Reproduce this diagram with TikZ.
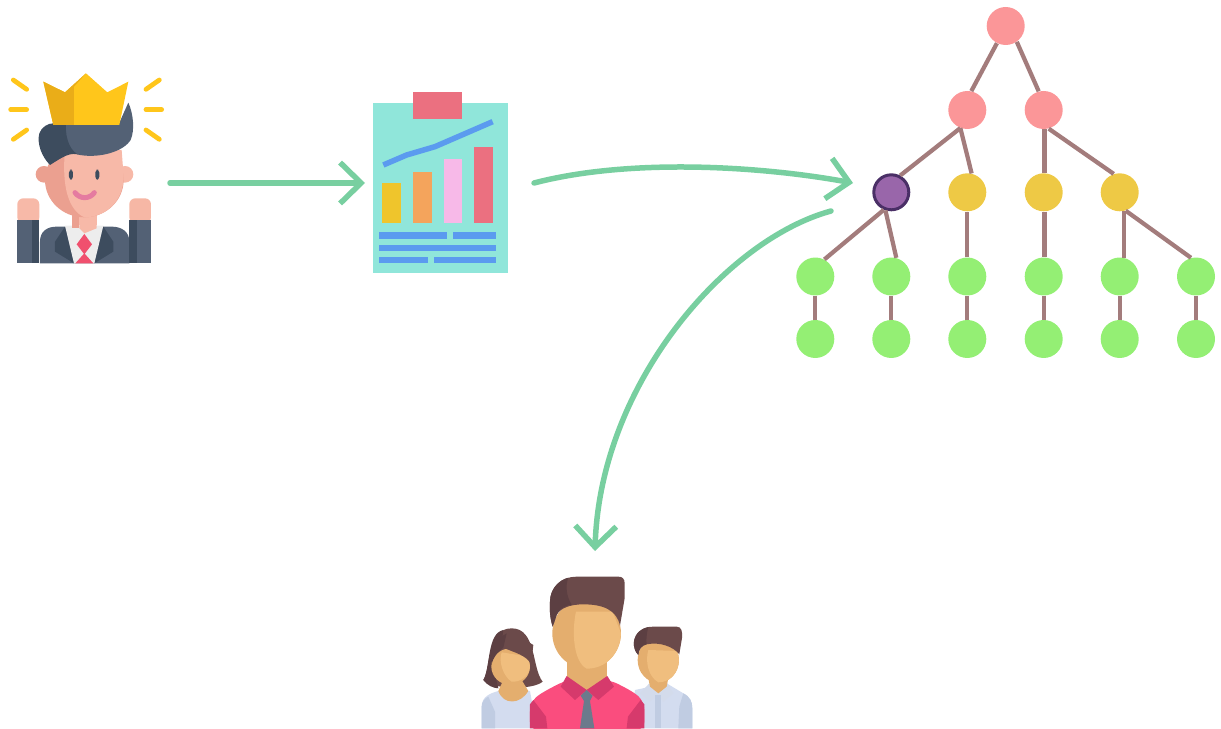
\documentclass[tikz,border=0pt]{standalone}
\usepackage{xcolor}
\usetikzlibrary{arrows.meta}
\definecolor{flow}{HTML}{78CFA0}
\definecolor{link}{HTML}{A37C7C}
\definecolor{rosy}{HTML}{FB9698}
\definecolor{gold}{HTML}{EEC945}
\definecolor{leaf}{HTML}{94EF74}
\definecolor{plum}{HTML}{9966AA}
\definecolor{plumdark}{HTML}{4A2F66}
\definecolor{crownlight}{HTML}{FFC61B}
\definecolor{crowndark}{HTML}{EAAD18}
\definecolor{slate}{HTML}{536175}
\definecolor{slatedark}{HTML}{3D4C5E}
\definecolor{skin}{HTML}{F7B9A8}
\definecolor{skindark}{HTML}{EBA090}
\definecolor{tiered}{HTML}{F0506E}
\definecolor{smile}{HTML}{E57BA0}
\definecolor{board}{HTML}{90E6DA}
\definecolor{boardclip}{HTML}{EB7080}
\definecolor{bluebar}{HTML}{5B9BEF}
\definecolor{yellowbar}{HTML}{EFC52C}
\definecolor{orangebar}{HTML}{F4A45C}
\definecolor{pinkbar}{HTML}{F7B9E8}
\definecolor{hairlight}{HTML}{6B4A4A}
\definecolor{hairdark}{HTML}{5C3F42}
\definecolor{facelight}{HTML}{F0BE7E}
\definecolor{facedark}{HTML}{E4AE6E}
\definecolor{shirtpink}{HTML}{FA4D7E}
\definecolor{shirtdark}{HTML}{D63A6C}
\definecolor{pale}{HTML}{D3DCEF}
\definecolor{paledark}{HTML}{C0CCE2}
\definecolor{greytie}{HTML}{6C7A8C}
\tikzset{
  treenode/.style={circle,minimum size=0.76cm,inner sep=0pt,fill=#1},
  treelink/.style={draw=link,line width=0.085cm},
  flowline/.style={draw=flow,line width=0.11cm,line cap=round,
    -{Straight Barb[length=0.42cm,width=0.82cm,line width=0.11cm]}},
  ray/.style={draw=crownlight,line width=0.095cm,line cap=round}
}
\begin{document}
\begin{tikzpicture}[x=0.02cm,y=-0.02cm]
  \useasboundingbox (0,0) rectangle (1221,729);

  % king
  \begin{scope}[shift={(0,60)},scale=0.3333]
    \foreach \xa/\ya/\xb/\yb in {40/60/80/88,32/149/80/149,40/238/80/210,478/60/438/88,438/149/485/149,478/238/438/210}
      \draw[ray] (\xa,\ya) -- (\xb,\yb);
    \fill[skindark] (132,343) circle (25);
    \fill[skin] (375,343) circle (25);
    \fill[slate] (120,610) -- (120,545) .. controls (120,515) and (140,500) .. (170,500) -- (335,500) .. controls (365,500) and (388,515) .. (388,545) -- (388,610) -- cycle;
    \fill[slatedark] (195,500) -- (165,545) -- (165,575) -- (222,610) -- cycle;
    \fill[slatedark] (310,500) -- (340,545) -- (340,575) -- (283,610) -- cycle;
    \fill[black!7] (195,497) -- (310,497) -- (283,610) -- (222,610) -- cycle;
    \fill[skin] (215,450) rectangle (290,495);
    \fill[skindark] (215,450) rectangle (238,505);
    \fill[skin] (238,495) -- (290,495) -- (290,505) -- (253,520) -- (238,505) -- cycle;
    \fill[tiered] (253,522) -- (276,553) -- (253,583) -- (230,553) -- cycle;
    \fill[tiered] (253,580) -- (280,610) -- (226,610) -- cycle;
    \fill[skindark] (253,360) ellipse (118 and 112);
    \fill[skin] (195,270) -- (365,270) -- (371,350) .. controls (371,420) and (320,472) .. (253,472) .. controls (205,450) and (185,380) .. (195,270) -- cycle;
    \fill[slate] (195,195) -- (355,195) -- (385,128) .. controls (400,160) and (405,210) .. (392,240) .. controls (370,275) and (300,295) .. (240,285) .. controls (215,280) and (195,260) .. (195,195) -- cycle;
    \fill[slatedark] (160,190) -- (198,195) .. controls (195,240) and (215,280) .. (240,285) .. controls (210,275) and (190,290) .. (150,315) .. controls (125,290) and (110,250) .. (118,220) .. controls (125,200) and (145,190) .. (160,190) -- cycle;
    \fill[crownlight] (130,65) -- (195,97) -- (258,40) -- (322,97) -- (385,65) -- (358,195) -- (160,195) -- cycle;
    \fill[crowndark] (130,65) -- (195,97) -- (258,40) -- (222,80) -- (222,195) -- (160,195) -- cycle;
    \fill[skin,rounded corners=0.12cm] (52,415) rectangle (118,490);
    \fill[skin!90!skindark,rounded corners=0.12cm] (388,415) rectangle (453,490);
    \fill[slate] (52,480) rectangle (118,610);
    \fill[slatedark] (95,480) rectangle (118,610);
    \fill[slate] (388,480) rectangle (453,610);
    \fill[slatedark] (388,480) rectangle (410,610);
    \fill[slatedark,rounded corners=0.06cm] (207,329) rectangle (219,359);
    \fill[slatedark,rounded corners=0.06cm] (286,329) rectangle (298,359);
    \draw[draw=smile,line width=0.1cm,line cap=round] (225,398) .. controls (240,418) and (268,418) .. (283,398);
  \end{scope}

  % chart
  \begin{scope}[shift={(360,80)},scale=0.3333]
    \fill[board] (40,70) rectangle (445,578);
    \fill[boardclip] (160,35) rectangle (306,118);
    \fill[yellowbar] (67,310) rectangle (124,430);
    \fill[orangebar] (160,275) rectangle (215,430);
    \fill[pinkbar] (252,238) rectangle (306,430);
    \fill[boardclip] (343,200) rectangle (400,430);
    \draw[draw=bluebar,line width=0.11cm] (70,255) -- (140,225) -- (225,200) -- (398,125);
    \foreach \xa/\ya/\xb/\yb in {58/457/260/477,280/457/408/477,58/495/408/514,58/532/205/550,223/532/408/550}
      \fill[bluebar] (\xa,\ya) rectangle (\xb,\yb);
  \end{scope}

  % family
  \begin{scope}[shift={(470,565)},scale=0.3333]
    \fill[hairlight] (40,345) .. controls (62,310) and (50,190) .. (125,190) .. controls (200,190) and (185,310) .. (218,350) .. controls (190,375) and (70,375) .. (40,345) -- cycle;
    \fill[hairdark] (40,345) .. controls (62,310) and (50,205) .. (100,195) .. controls (95,230) and (95,280) .. (65,290) -- (85,370) .. controls (70,370) and (50,360) .. (40,345) -- cycle;
    \fill[pale] (35,490) -- (35,425) .. controls (35,395) and (60,385) .. (85,378) -- (180,378) -- (200,490) -- cycle;
    \fill[paledark] (35,490) -- (35,425) .. controls (35,410) and (45,400) .. (55,395) -- (75,440) -- (75,490) -- cycle;
    \fill[facedark] (85,378) .. controls (100,420) and (150,420) .. (175,378) -- (155,345) -- (100,345) -- cycle;
    \fill[facedark] (122,305) ellipse (58 and 55);
    \fill[facelight] (95,262) -- (175,275) -- (180,305) .. controls (178,335) and (150,352) .. (125,350) .. controls (100,335) and (85,290) .. (95,262) -- cycle;
    \fill[hairlight] (100,248) .. controls (130,262) and (170,270) .. (183,298) -- (190,240) -- (125,200) -- cycle;
    \fill[hairdark] (65,298) .. controls (70,275) and (85,258) .. (100,248) -- (110,205) -- (70,230) -- cycle;
    \fill[pale] (495,375) -- (590,355) -- (640,385) .. controls (660,395) and (667,410) .. (667,430) -- (667,490) -- (480,490) -- cycle;
    \fill[paledark] (625,490) -- (628,425) -- (640,385) .. controls (660,395) and (667,410) .. (667,430) -- (667,490) -- cycle;
    \fill[paledark!70!white] (538,355) -- (510,385) -- (540,410) -- (565,388) -- cycle;
    \fill[paledark!70!white] (592,355) -- (610,385) -- (580,410) -- (565,388) -- cycle;
    \fill[paledark] (556,390) rectangle (574,490);
    \fill[facedark] (535,340) -- (595,340) -- (590,365) -- (565,385) -- (540,365) -- cycle;
    \fill[facedark] (565,285) ellipse (62 and 68);
    \fill[facelight] (535,255) -- (622,258) -- (627,285) .. controls (625,325) and (600,352) .. (565,352) .. controls (535,335) and (525,290) .. (535,255) -- cycle;
    \fill[hairlight] (492,230) .. controls (495,205) and (515,185) .. (550,185) -- (620,185) .. controls (635,185) and (638,200) .. (636,220) -- (628,268) .. controls (610,245) and (570,230) .. (530,238) .. controls (515,240) and (505,255) .. (505,270) .. controls (495,260) and (490,245) .. (492,230) -- cycle;
    \fill[hairdark] (492,230) .. controls (495,205) and (515,190) .. (535,186) .. controls (530,205) and (528,225) .. (530,238) .. controls (515,240) and (505,255) .. (505,270) .. controls (495,260) and (490,245) .. (492,230) -- cycle;
    \fill[shirtpink,rounded corners=0.16cm] (180,495) -- (180,415) .. controls (210,385) and (250,365) .. (290,345) -- (420,345) .. controls (460,365) and (490,380) .. (523,410) -- (523,495) -- cycle;
    \fill[shirtdark] (180,490) -- (180,418) -- (190,405) -- (228,455) -- (232,490) -- cycle;
    \fill[shirtdark] (523,490) -- (523,418) -- (512,405) -- (474,455) -- (470,490) -- cycle;
    \fill[facedark] (290,290) rectangle (412,345);
    \fill[facedark] (290,340) -- (412,340) -- (350,375) -- cycle;
    \fill[shirtdark] (290,333) -- (350,375) -- (315,405) -- (272,365) -- cycle;
    \fill[shirtdark] (412,333) -- (350,375) -- (385,405) -- (432,365) -- cycle;
    \fill[greytie] (350,375) -- (368,392) -- (360,408) -- (373,490) -- (330,490) -- (342,408) -- (332,392) -- cycle;
    \fill[facedark] (350,205) ellipse (103 and 106);
    \fill[facelight] (318,140) -- (428,140) -- (453,205) .. controls (450,265) and (410,311) .. (350,311) .. controls (310,290) and (305,200) .. (318,140) -- cycle;
    \fill[hairlight] (240,110) .. controls (240,65) and (275,35) .. (320,35) -- (445,35) .. controls (458,35) and (464,42) .. (464,55) -- (464,100) -- (450,182) .. controls (440,135) and (400,118) .. (340,118) .. controls (300,118) and (270,130) .. (260,150) -- (248,185) .. controls (240,160) and (238,130) .. (240,110) -- cycle;
    \fill[hairdark] (240,110) .. controls (240,75) and (265,45) .. (295,38) .. controls (285,65) and (290,95) .. (305,119) .. controls (280,122) and (265,135) .. (260,150) -- (248,185) .. controls (240,160) and (238,130) .. (240,110) -- cycle;
  \end{scope}

  % tree
  \node[treenode=rosy] (root) at (1005.7,26) {};
  \node[treenode=rosy] (ml) at (967.3,110) {};
  \node[treenode=rosy] (mr) at (1043.7,110) {};
  \node[treenode=gold] (gb) at (967.3,192.3) {};
  \node[treenode=gold] (gc) at (1043.7,192.3) {};
  \node[treenode=gold] (gd) at (1119.7,192.3) {};
  \node[treenode=plum,draw=plumdark,line width=0.06cm,minimum size=0.7cm] (picked) at (891.3,192.3) {};
  \foreach \n/\x in {a/815.3,b/891.3,c/967.3,d/1043.7,e/1119.7,f/1196} {
    \node[treenode=leaf] (up\n) at (\x,276.5) {};
    \node[treenode=leaf] (lo\n) at (\x,339) {};
  }
  \draw[treelink] (root.243) -- (ml.78);
  \draw[treelink] (root.305) -- (mr.105);
  \draw[treelink] (ml.249) -- (picked.62);
  \draw[treelink] (ml.249) -- (gb.77);
  \draw[treelink] (mr.272) -- (gc.88);
  \draw[treelink] (mr.285) -- (gd.108);
  \draw[treelink] (picked.247) -- (upa.62);
  \draw[treelink] (picked.252) -- (upb.75);
  \draw[treelink] (gb.south) -- (upc.north);
  \draw[treelink] (gc.272) -- (upd.88);
  \draw[treelink] (gd.282) -- (upe.78);
  \draw[treelink] (gd.288) -- (upf.105);
  \foreach \n in {a,b,c,d,e,f}
    \draw[treelink] (up\n.south) -- (lo\n.north);

  % arrows
  \coordinate (kingout) at (170,183);
  \coordinate (chartin) at (365,183);
  \coordinate (chartout) at (534,183);
  \coordinate (treein) at (853,183);
  \coordinate (treeout) at (831,211);
  \coordinate (familyin) at (595,551);
  \draw[flowline] (kingout) -- (chartin);
  \draw[flowline] (chartout) .. controls (630,158) and (760,166) .. (treein);
  \draw[flowline] (treeout) .. controls (725,240) and (600,385) .. (familyin);
\end{tikzpicture}
\end{document}
